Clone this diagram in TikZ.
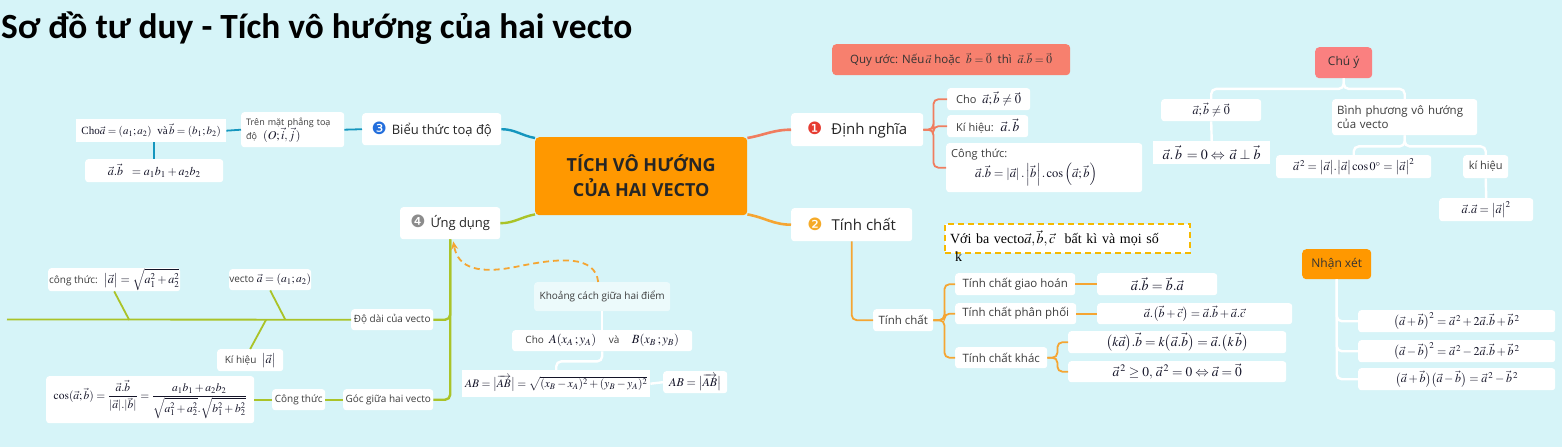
\documentclass[tikz,border=0pt]{standalone}
\usepackage{mathptmx}
\usepackage{amsmath}
\usepackage[no-math]{fontspec}
\setmainfont{Open Sans}
\newfontfamily\titlefont{Carlito}
\newfontfamily\seriffont{Liberation Serif}
\newfontfamily\dejavu{DejaVu Sans}
\usetikzlibrary{arrows.meta}
\definecolor{bg}{RGB}{214,244,248}
\definecolor{central}{RGB}{255,152,0}
\definecolor{cA}{RGB}{240,125,95}
\definecolor{cB}{RGB}{245,165,50}
\definecolor{cC}{RGB}{20,150,190}
\definecolor{cD}{RGB}{170,195,40}
\definecolor{nA}{RGB}{230,60,50}
\definecolor{nB}{RGB}{245,170,40}
\definecolor{nC}{RGB}{35,110,220}
\definecolor{nD}{RGB}{140,140,140}
\definecolor{quyc}{RGB}{247,128,110}
\definecolor{chuc}{RGB}{250,128,128}
\definecolor{dashc}{RGB}{245,185,0}
\definecolor{txt}{RGB}{60,60,60}
\definecolor{fmc}{RGB}{20,20,40}
\newcommand\numdot[2]{{\dejavu\fontsize{17}{17}\selectfont\textcolor{#1}{#2}}}
\begin{document}
\begin{tikzpicture}[x=1pt,y=-1pt,
  box/.style={fill=white, rounded corners=3pt, inner sep=0pt, anchor=north west, align=center, text=txt},
  sqbox/.style={fill=white, inner sep=0pt, anchor=north west, align=center, text=fmc},
  lab/.style={font=\fontsize{10}{12}\selectfont},
  labA/.style={font=\fontsize{11}{13}\selectfont},
  labB/.style={font=\fontsize{11.5}{13}\selectfont},
  fm/.style={font=\fontsize{12}{14}\selectfont, text=fmc},
  main/.style={box, font=\fontsize{15}{17}\selectfont, text=black!85},
  colbox/.style={rounded corners=4pt, inner sep=0pt, anchor=north west, align=center, text=black!80, font=\fontsize{12}{14}\selectfont},
  lA/.style={draw=cA, line width=2.6pt, rounded corners=5pt},
  lAs/.style={draw=cA, line width=1.8pt, rounded corners=5pt},
  lB/.style={draw=cB, line width=2.6pt, rounded corners=5pt},
  lBs/.style={draw=cB, line width=1.8pt, rounded corners=5pt},
  lC/.style={draw=cC, line width=2.4pt, rounded corners=5pt},
  lCs/.style={draw=cC, line width=1.8pt},
  lD/.style={draw=cD, line width=2.4pt, rounded corners=5pt},
  lDs/.style={draw=cD, line width=1.8pt, rounded corners=5pt},
  wl/.style={draw=white, line width=2.4pt, rounded corners=5pt},
  dasharrow/.style={draw=cB, line width=1.8pt, dash pattern=on 6pt off 4pt, -{Stealth[length=8pt,width=7pt]}}
]
\useasboundingbox (0,0) rectangle (1562,447);
\fill[bg] (0,0) rectangle (1562,447);

% title
\node[anchor=base west, inner sep=0pt, font=\titlefont\bfseries\fontsize{35.4}{40}\selectfont] (title) at (1,38) {Sơ đồ tư duy - Tích vô hướng của hai vecto};

% central
\node[fill=central, rounded corners=4pt, anchor=north west, inner sep=0pt, minimum width=212pt, minimum height=78pt, align=center, font=\bfseries\fontsize{18}{25}\selectfont, text=black!85] (c) at (535,137) {TÍCH VÔ HƯỚNG\\CỦA HAI VECTO};

% main branches
\node[main, minimum width=132pt, minimum height=33pt] (def) at (791,113) {\numdot{nA}{❶}\hspace{9pt}Định nghĩa};
\node[main, minimum width=121pt, minimum height=33pt] (tc) at (791,208) {\numdot{nB}{❷}\hspace{9pt}Tính chất};
\node[main, minimum width=139pt, minimum height=32pt, font=\fontsize{13}{15}\selectfont] (bt) at (362,113) {\numdot{nC}{❸}\hspace{5pt}Biểu thức toạ độ};
\node[main, minimum width=100pt, minimum height=32pt, font=\fontsize{13}{15}\selectfont] (ud) at (400,207) {\numdot{nD}{❹}\hspace{5pt}Ứng dụng};

% quy uoc
\node[colbox, fill=quyc, minimum width=238pt, minimum height=31pt, font=\fontsize{11.5}{14}\selectfont] (quy) at (832,44) {Quy ước: Nếu$\,\vec a$ hoặc \ $\vec b=\vec 0$ \ thì \ $\vec a.\vec b=\vec 0$};

% dinh nghia children
\node[box, labA, minimum width=83pt, minimum height=22pt] (d1) at (947,88) {Cho \ {\fontsize{12.5}{14}\selectfont\color{fmc}$\vec a;\vec b\neq\vec 0$}};
\node[box, labA, minimum width=81pt, minimum height=22pt] (d2) at (947,115) {Kí hiệu: \ {\fontsize{13.5}{14}\selectfont\color{fmc}$\vec a.\,\vec b$}};
\node[box, labA, align=left, text width=186pt, inner xsep=5pt, minimum height=49pt] (d3) at (946,143) {Công thức:\\[2pt]\hspace*{24pt}{\fontsize{12.5}{14}\selectfont\color{fmc}$\vec a.\vec b=\left|\vec a\right|.\left|\vec b\right|.\cos\left(\vec a;\vec b\right)$}};

% tinh chat children
\node[box, labB, minimum width=60pt, minimum height=22pt] (tcs) at (873,309) {Tính chất};
\node[box, labB, minimum width=120pt, minimum height=22pt] (gh) at (955,273) {Tính chất giao hoán};
\node[box, labB, minimum width=121pt, minimum height=21pt] (pp) at (955,303) {Tính chất phân phối};
\node[box, labB, minimum width=92pt, minimum height=21pt] (kh) at (955,347) {Tính chất khác};
\node[box, fm, font=\fontsize{14}{16}\selectfont, minimum width=120pt, minimum height=22pt] (f1) at (1097,273) {$\vec a.\vec b=\vec b.\vec a$};
\node[box, fm, minimum width=195pt, minimum height=21pt] (f2) at (1097,303) {$\vec a.\bigl(\vec b+\vec c\bigr)=\vec a.\vec b+\vec a.\vec c$};
\node[box, fm, font=\fontsize{13.5}{16}\selectfont, minimum width=218pt, minimum height=22pt] (f3) at (1068,331) {$\bigl(k\vec a\bigr).\vec b=k\bigl(\vec a.\vec b\bigr)=\vec a.\bigl(k\,\vec b\bigr)$};
\node[box, fm, font=\fontsize{13.5}{16}\selectfont, minimum width=218pt, minimum height=21pt] (f4) at (1068,361) {$\vec a^{\,2}\ge 0,\,\vec a^{\,2}=0\Leftrightarrow\vec a=\vec 0$};

% dashed box
\node[draw=dashc, fill=white, line width=2pt, dash pattern=on 6pt off 4pt, anchor=north west, inner sep=0pt, minimum width=245pt, minimum height=29pt, text width=235pt, inner xsep=5pt, align=left, font=\seriffont\fontsize{14}{16}\selectfont, text=black] (vb) at (944,223) {Với ba vecto$\vec a,\vec b,\vec c$\ \ bất kì và mọi số};
\node[anchor=north west, inner sep=0pt, font=\seriffont\fontsize{14}{16}\selectfont] (vk) at (955,252) {k};

% chu y
\node[colbox, fill=chuc, minimum width=57pt, minimum height=31pt] (chu) at (1315,47) {Chú ý};
\node[box, fm, minimum width=100pt, minimum height=22pt] (cy1) at (1161,99) {$\vec a;\vec b\neq\vec 0$};
\node[sqbox, font=\fontsize{14}{16}\selectfont, minimum width=117pt, minimum height=23pt] (cy2) at (1153,141) {$\vec a.\,\vec b\,=0\Leftrightarrow\,\vec a\perp\vec b$};
\node[box, font=\fontsize{11.5}{14}\selectfont, align=left, text width=135pt, inner xsep=5pt, minimum height=36pt] (bp) at (1332,99) {Bình phương vô hướng\\của vecto};
\node[box, fm, minimum width=155pt, minimum height=23pt] (bp1) at (1276,155) {$\vec a^{\,2}=\bigl|\vec a\bigr|.\bigl|\vec a\bigr|\cos 0^{\circ}=\bigl|\vec a\bigr|^2$};
\node[box, labA, minimum width=45pt, minimum height=23pt] (kihieu) at (1463,155) {kí hiệu};
\node[box, fm, minimum width=94pt, minimum height=23pt] (bp2) at (1439,198) {$\vec a.\vec a=\bigl|\vec a\bigr|^2$};

% nhan xet
\node[colbox, fill=central, minimum width=69pt, minimum height=30pt] (nx) at (1302,249) {Nhận xét};
\node[box, fm, minimum width=197pt, minimum height=22pt] (n1) at (1358,310) {$\bigl(\vec a+\vec b\bigr)^2=\vec a^{\,2}+2\vec a.\vec b+\vec b^{\,2}$};
\node[box, fm, minimum width=197pt, minimum height=22pt] (n2) at (1358,340) {$\bigl(\vec a-\vec b\bigr)^2=\vec a^{\,2}-2\vec a.\vec b+\vec b^{\,2}$};
\node[box, fm, minimum width=197pt, minimum height=22pt] (n3) at (1358,368) {$\bigl(\vec a+\vec b\bigr)\bigl(\vec a-\vec b\bigr)=\vec a^{\,2}-\vec b^{\,2}$};

% bieu thuc toa do children
\node[box, align=left, text width=93pt, inner xsep=5pt, minimum height=35pt, font=\fontsize{9}{11}\selectfont] (tr) at (241,112) {Trên mặt phẳng toạ\\độ \ {\fontsize{12}{12}\selectfont\color{fmc}$(O;\vec i,\vec j\,)$}};
\node[sqbox, minimum width=150pt, minimum height=23pt, font=\fontsize{11}{13}\selectfont] (cho) at (76,119) {{\seriffont Cho}$\vec a=(a_1;a_2)$\ \ {\seriffont và}$\,\vec b=(b_1;b_2)$};
\node[box, fm, minimum width=138pt, minimum height=23pt] (bf) at (85,159) {$\vec a.\vec b\ \ =a_1b_1+a_2b_2$};

% ung dung children
\node[box, lab, minimum width=82pt, minimum height=21pt] (dd) at (351,309) {Độ dài của vecto};
\node[box, lab, minimum width=90pt, minimum height=21pt] (gg) at (343,389) {Góc giữa hai vecto};
\node[box, lab, minimum width=132pt, minimum height=23pt] (ct) at (48,268) {công thức: \ {\fontsize{12}{14}\selectfont\color{fmc}$\bigl|\vec a\bigr|=\sqrt{a_1^2+a_2^2}$}};
\node[box, lab, minimum width=82pt, minimum height=21pt] (vt) at (229,269) {vecto {\fontsize{11.5}{13}\selectfont\color{fmc}$\vec a=(a_1;a_2)$}};
\node[box, lab, minimum width=66pt, minimum height=22pt] (kh2) at (217,349) {Kí hiệu \ {\fontsize{12}{14}\selectfont\color{fmc}$\bigl|\vec a\bigr|$}};
\node[box, lab, minimum width=53pt, minimum height=21pt] (ctg) at (272,389) {Công thức};
\node[box, minimum width=208pt, minimum height=47pt, text=fmc, font=\fontsize{11.5}{13}\selectfont] (cosf) at (46,376) {$\cos(\vec a;\vec b)=\dfrac{\vec a.\vec b}{|\vec a|.|\vec b|}=\dfrac{a_1b_1+a_2b_2}{\sqrt{a_1^2+a_2^2}.\sqrt{b_1^2+b_2^2}}$};
\coordinate (lend) at (7,319.5);

% khoang cach
\node[box, lab, fill opacity=0.55, text opacity=1, minimum width=136pt, minimum height=29pt] (kc) at (534,282) {Khoảng cách giữa hai điểm};
\node[box, lab, minimum width=180pt, minimum height=21pt] (kc1) at (512,330) {Cho \ {\fontsize{12.5}{14}\selectfont\color{fmc}$A(x_A\,;y_A)$} \quad và \quad {\fontsize{12.5}{14}\selectfont\color{fmc}$B(x_B\,;y_B)$}};
\node[sqbox, minimum width=188pt, minimum height=27pt, font=\fontsize{11.5}{13}\selectfont] (kc2) at (462,370) {$AB=\bigl|\overrightarrow{AB}\bigr|=\sqrt{(x_B-x_A)^2+(y_B-y_A)^2}$};
\node[box, fm, minimum width=64pt, minimum height=22pt] (kc3) at (663,371) {$AB=\bigl|\overrightarrow{AB}\bigr|$};

% ---- connectors ----
\draw[lA] ([yshift=-1pt]c.north east) to[out=10,in=180] (def.west);
\draw[lB] ([yshift=1pt]c.south east) to[out=-10,in=180] (tc.west);
\draw[lC] ([yshift=-1pt]c.north west) to[out=170,in=0] (bt.east);
\draw[lD] ([yshift=1pt]c.south west) to[out=-170,in=0] (ud.east);

\draw[lAs] (def.east) -- ++(10,0) |- (d1.west);
\draw[lAs] (def.east) -- ++(10,0) |- (d2.west);
\draw[lAs] (def.east) -- ++(10,0) |- (d3.west);

\draw[lBs] (tc.south) |- (tcs.west);
\draw[lBs] (tcs.east) -- ++(11,0) |- (gh.west);
\draw[lBs] (tcs.east) -- ++(11,0) |- (pp.west);
\draw[lBs] (tcs.east) -- ++(11,0) |- (kh.west);
\draw[lBs] (gh.east) -- (f1.west);
\draw[lBs] (pp.east) -- (f2.west);
\draw[lBs] (kh.east) -- ++(10,0) |- (f3.west);
\draw[lBs] (kh.east) -- ++(10,0) |- (f4.west);

\draw[wl] (chu.south) -- ++(0,10.5) -| (cy1.north);
\draw[wl] (chu.south) -- ++(0,10.5) -| (bp.north);
\draw[wl] (cy1.south) -- (cy2.north);
\draw[wl] (bp.south) -- ++(0,11) -| (bp1.north);
\draw[wl] (bp.south) -- ++(0,11) -| (kihieu.north);
\draw[wl] (kihieu.south) -- (bp2.north);
\draw[wl] (nx.south) |- (n1.west);
\draw[wl] (nx.south) |- (n2.west);
\draw[wl] (nx.south) |- (n3.west);

\draw[lCs] (bt.west) -- (tr.east);
\draw[lCs] (tr.west) -- (cho.east);
\draw[lCs] (bf.north |- cho.south) -- (bf.north);

\draw[lD] (ud.south) |- (dd.east);
\draw[lD] (ud.south) |- (gg.east);
\draw[lDs] (dd.west) -- (lend);
\draw[lDs] (ct.south) -- ++(15,28.5);
\draw[lDs] (vt.south) -- ++(15,29);
\draw[lDs] (kh2.north) -- ++(16,-29.5);
\draw[lDs] (gg.west) -- (ctg.east);
\draw[lDs] (ctg.west) -- (cosf.east);

\draw[wl] (kc.south) -- (kc1.north);
\draw[wl] (kc1.south) -- ++(0,10) -| (kc2.north);
\draw[wl] (kc2.east) -- (kc3.west);
\draw[dasharrow] ([xshift=-4pt]kc.north) .. controls (595,255) and (560,258) .. (520,266) .. controls (478,275) and (458,268) .. ([xshift=3pt,yshift=-2pt]ud.south);
\end{tikzpicture}
\end{document}
